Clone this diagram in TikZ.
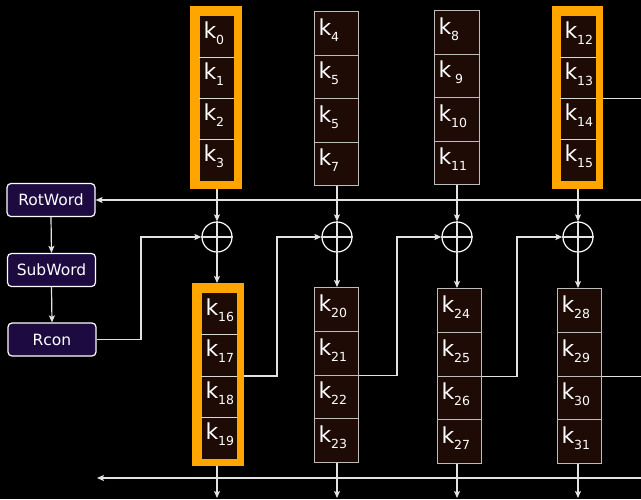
\documentclass[tikz,border=0pt]{standalone}
\usepackage{fontspec}
\setmainfont{DejaVu Sans}
\usetikzlibrary{arrows.meta,calc}
\definecolor{cellfill}{HTML}{1E0B05}
\definecolor{boxfill}{HTML}{1C0A40}
\definecolor{lc}{HTML}{E2E2E2}
\definecolor{cellline}{HTML}{BDBDBD}
\definecolor{frame}{HTML}{FFA500}
\newcommand\kc[2]{\makebox[#1][l]{k\raisebox{-6pt}{\fontsize{12.5pt}{12.5pt}\selectfont #2}}}
\begin{document}
\begin{tikzpicture}[x=1pt,y=-1pt,
 line/.style={draw=lc, line width=1.2pt},
 arr/.style={line, -{Stealth[length=7pt,width=6pt,inset=1.5pt]}},
 cell/.style={draw=cellline, fill=cellfill, line width=1pt, inner sep=0pt, anchor=north west, text=white, font=\fontsize{22pt}{22pt}\selectfont, text height=14pt, text depth=10pt},
 ocell/.style={cell, draw=none},
 divider/.style={draw=white!85!black, line width=1pt},
 oframe/.style={fill=frame, draw=none, anchor=north west, inner sep=0pt},
 op/.style={draw=white, line width=1.2pt, rounded corners=4pt, fill=boxfill, text=white, font=\fontsize{15.5pt}{15.5pt}\selectfont, minimum width=88pt, minimum height=33pt, inner sep=0pt},
 xor/.style={circle, draw=white, line width=1.2pt, minimum size=30pt, inner sep=0pt}]
\path[fill=black, use as bounding box] (0,0) rectangle (641,499);

% operation boxes
\node[op] (RotWord) at (51,200) {RotWord};
\node[op] (SubWord) at (51.5,270) {SubWord};
\node[op] (Rcon) at (52,339.5) {Rcon};
\draw[arr] (RotWord.south) -- (SubWord.north);
\draw[arr] (SubWord.south) -- (Rcon.north);

% orange frames
\node[oframe, minimum width=52pt, minimum height=183pt] (of1) at (190,6) {};
\node[oframe, minimum width=51pt, minimum height=183pt] (of4) at (552,6) {};
\node[oframe, minimum width=52pt, minimum height=183pt] (of5) at (192,283) {};

% top row
\foreach \j/\lab [count=\i from 0] in {0/0,1/1,2/2,3/3}
  \node[ocell, minimum width=34pt, minimum height=41.25pt] (c\j) at (199,15+\i*41.25) {\kc{26pt}{\lab}};
\foreach \j/\lab [count=\i from 0] in {4/4,5/5,6/5,7/7}
  \node[cell, minimum width=44pt, minimum height=43.5pt] (c\j) at (314,11+\i*43.5) {\kc{36pt}{\lab}};
\foreach \j/\lab [count=\i from 0] in {8/8,9/\hspace{4pt}9,10/10,11/11}
  \node[cell, minimum width=45pt, minimum height=43.5pt] (c\j) at (434,10+\i*43.5) {\kc{37pt}{\lab}};
\foreach \j/\lab [count=\i from 0] in {12/12,13/13,14/14,15/15}
  \node[ocell, minimum width=35pt, minimum height=41.25pt] (c\j) at (560,15+\i*41.25) {\kc{27pt}{\lab}};

% bottom row
\foreach \j/\lab [count=\i from 0] in {16/16,17/17,18/18,19/19}
  \node[ocell, minimum width=35pt, minimum height=41.5pt] (c\j) at (201,292+\i*41.5) {\kc{27pt}{\lab}};
\foreach \j/\lab [count=\i from 0] in {20/20,21/21,22/22,23/23}
  \node[cell, minimum width=44pt, minimum height=43.75pt] (c\j) at (314,287+\i*43.75) {\kc{36pt}{\lab}};
\foreach \j/\lab [count=\i from 0] in {24/24,25/25,26/26,27/27}
  \node[cell, minimum width=44pt, minimum height=43.75pt] (c\j) at (437,288+\i*43.75) {\kc{36pt}{\lab}};
\foreach \j/\lab [count=\i from 0] in {28/28,29/29,30/30,31/31}
  \node[cell, minimum width=44pt, minimum height=43.75pt] (c\j) at (557,288+\i*43.75) {\kc{36pt}{\lab}};

% dividers inside orange columns
\foreach \j in {0,1,2,12,13,14,16,17,18}
  \draw[divider] (c\j.south west) -- (c\j.south east);

% xor circles
\node[xor] (x1) at (217,237) {};
\node[xor] (x2) at (337,237) {};
\node[xor] (x3) at (457,237) {};
\node[xor] (x4) at (578,237) {};
\foreach \k in {1,2,3,4} {
  \draw[line] (x\k.north) -- (x\k.south);
  \draw[line] (x\k.west) -- (x\k.east);
}

% coordinates
\coordinate (e1) at (641,0);
\coordinate (f1) at (641,200);
\coordinate (f2) at (641,478);
\coordinate (f3) at (97,478);
\coordinate (dn) at (0,498);
\coordinate (j0) at (141,237);
\coordinate (j1) at (277,237);
\coordinate (j2) at (397,237);
\coordinate (j3) at (517,237);

% feedback line to RotWord
\draw[arr] (f1) -- (RotWord.east);

% top words to xor
\draw[arr] (x1 |- of1.south) -- (x1.north);
\draw[arr] (x2 |- c7.south) -- (x2.north);
\draw[arr] (x3 |- c11.south) -- (x3.north);
\draw[arr] (x4 |- of4.south) -- (x4.north);

% xor to bottom words
\draw[arr] (x1.south) -- (x1 |- of5.north);
\draw[arr] (x2.south) -- (x2 |- c20.north);
\draw[arr] (x3.south) -- (x3 |- c24.north);
\draw[arr] (x4.south) -- (x4 |- c28.north);

% chained inputs
\draw[arr] (Rcon.east) -| (j0) -- (x1.west);
\draw[arr] (of5.east |- c17.south) -| (j1) -- (x2.west);
\draw[arr] (c21.south east) -| (j2) -- (x3.west);
\draw[arr] (c25.south east) -| (j3) -- (x4.west);
\draw[line] (c29.south east) -- (c29.south east -| e1);
\draw[line] (of4.east |- c13.south) -- (c13.south -| e1);

% bottom feed line
\draw[arr] (f2) -- (f3);

% down arrows
\draw[arr] (x1 |- of5.south) -- (x1 |- dn);
\draw[arr] (x2 |- c23.south) -- (x2 |- dn);
\draw[arr] (x3 |- c27.south) -- (x3 |- dn);
\draw[arr] (x4 |- c31.south) -- (x4 |- dn);
\end{tikzpicture}
\end{document}
